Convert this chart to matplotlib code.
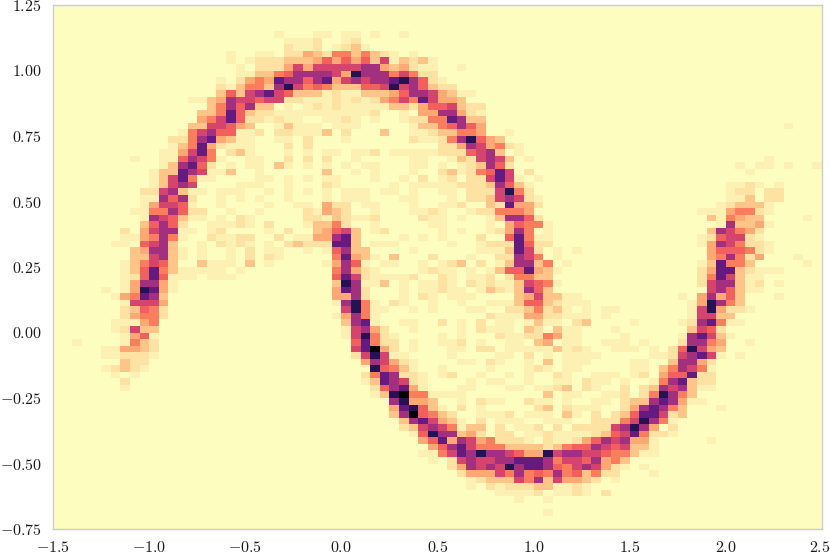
import numpy as np
import matplotlib
matplotlib.use("Agg")
import matplotlib.pyplot as plt
from matplotlib.transforms import ScaledTranslation

plt.rcParams['mathtext.fontset'] = 'cm'

# Histogram: row (from the top) -> "first_column:levels"
N_BINS = 80
LEVEL_COUNTS = {'0': 0, '1': 1, '2': 2, '3': 4, '4': 6, '5': 9, '6': 11,
                '7': 14, '8': 18, '9': 23, 'a': 28, 'b': 33}
ROWS = {
 4: "23:1 27:11 30:11 33:1 36:1",
 5: "24:1112 30:12",
 6: "24:2112 29:1231",
 7: "18:1 21:11 24:224325535321 37:1",
 8: "18:1 20:12223334646463713231",
 9: "19:1 21:2224747777788434211 42:1",
 10: "19:11 21:3356888874a88857522",
 11: "17:1 19:24549886894787889a8621",
 12: "17:213553 23:8a756533366 34:7a786322",
 13: "17:363789763331211333468874311",
 14: "14:11 16:34877677221112121245759744 42:3",
 15: "16:35868330101212111113324667322",
 16: "15:335963221111111111 33:2 36:1 38:4488421",
 17: "15:457962212110011210100122559833",
 18: "14:337764300131110111 37:1335686 44:4 76:1",
 19: "13:15786611202211130200030011233554 47:1",
 20: "12:22589431100110200010000002112 41:58a643",
 21: "12:135942111 24:202 40:224874521",
 22: "11:1147950231 24:1010110112011111222678301",
 23: "8:1 11:1168751 20:11 24:20202 31:1 37:11 41:132787301 74:1",
 24: "11:138962 18:1 20:11 23:31 26:1 28:1 30:1 32:11 37:11 40:1 42:123862 71:1 73:11 76:1 79:1",
 25: "10:133987113 21:1 28:3 31:1 33:1 37:1 40:2312569702 72:1",
 26: "10:1379511 21:11 24:1 26:1 28:11 33:1 36:1 38:2 40:12 43:2279710 50:1",
 27: "10:13787 19:111 24:1 28:21 35:1 37:11111222 45:38631 70:1121 75:1",
 28: "9:22783110 17:111 22:1 24:1 26:1 28:1 30:111 34:11 37:1 40:11 43:2227a52 70:122022",
 29: "9:118682 17:1 19:1 21:1 24:1 28:1 30:111 36:11 41:1 43:2237872 50:1 70:113022",
 30: "9:147761 17:1 22:1 25:11 28:422 32:11 37:1 40:112 45:329442 69:123331",
 31: "8:11558622 18:1 21:1 26:21432 33:1 37:1121 43:1225554 67:11145521",
 32: "9:1876311 17:1 19:21 26:2213211 33:2 38:211 42:1 45:138862 68:315433 78:1",
 33: "9:36862 16:11121 22:2 26:13352 33:1 39:11 45:1 47:46551 69:183341",
 34: "7:2 9:478811 16:12 22:1 24:2 27:34673 33:12 40:1 42:1 45:124 48:85 51:1 68:387542",
 35: "7:114585 13:1 16:21122 23:2 25:11448 30:93 36:1 38:1 40:1 44:2 47:69511 67:1267721",
 36: "6:11 9:6783 15:1 17:2121 22:1 24:23222 29:993 33:111 41:1 44:1222 48:9622 67:14875221",
 37: "8:348831 15:1 18:1 20:2 22:11 26:1 28:16833 37:1 44:1113 48:97 50:2 52:1 54:1 68:4666521",
 38: "8:337831 15:1 18:1 20:2 22:21 29:59431 35:3 39:2 43:1 46:22875 52:1 68:458524 77:1",
 39: "7:135763 15:3111 20:3 22:1 28:14861 34:11 38:1 40:123 44:2 46:138835 53:1 67:139553 78:1",
 40: "7:13695311 14:1111 19:1 29:58421 38:1211 43:1 45:136694 51:3 52:1 67:249932111",
 41: "7:126961 13:11 16:111 29:6972 33:11112 40:21 43:112 47:25533 67:2597311",
 42: "7:148841 29:3a8113 36:1 38:11 40:21 43:21211 48:37651 67:2788312 75:1",
 43: "5:1 7:14a941 29:4982 36:1 38:1121 42:1 44:13213 49:86 51:3 68:786311",
 44: "6:145983 29:4482 36:1 38:21 41:111 48:347331 53:1 54:1 65:1 67:48463 75:1",
 45: "7:17774 29:18a51 35:21 39:1 42:1 45:11136632111 66:14a853",
 46: "7:23652 30:7a511 37:1 39:1 43:11 47:2235231 55:1 57:11 66:17a4221",
 47: "7:24552 29:14851 45:21114 50:4 51:2211 54:11 57:1 66:17733",
 48: "6:11145 30:3891 36:11 40:2 42:1 44:2 46:11 49:1 50:3 51:11 54:23 60:1 65:1289511",
 49: "6:12733 30:17842 37:1 42:1 44:2111 49:32 52:311 58:1 66:3762",
 50: "7:1461 30:17a5 34:21 40:1 42:1 46:2112 50:2 51:5411 59:1 65:189731",
 51: "2:1 7:1532 31:69522 37:1 40:112 44:1 47:11 50:34 53:11 57:111 61:1 65:28854 72:1",
 52: "5:114432 31:79b42 37:1 41:11 44:22 47:11111311 54:2 55:1 58:111 62:1 64:26a743",
 53: "5:112221 31:27a711 41:1 46:11 49:2 51:1 53:1111 62:11278971 71:1",
 54: "7:322 32:487421 42:11 45:21 49:1 51:3 53:111 60:11 64:38842",
 55: "5:12321 33:a6531 40:1 45:1 49:121 53:11 60:11 63:358751",
 56: "6:1 8:1 32:2598221 40:12 44:1 47:1 49:1 52:21 56:111 60:12 63:466922",
 57: "7:2 32:1398721 43:1 45:11 49:1 52:11 55:211 59:1 62:158 65:9322",
 58: "7:1 33:268941 42:11 47:11 50:1 51:123 55:21 59:2 61:2387 65:8311",
 59: "33:13ab551111 51:3 53:11 57:112 61:25a8 65:53",
 60: "35:8a443 42:1 44:211 49:211 53:1 56:11 59:233898 65:411",
 61: "35:49a6310 42:2 44:1 50:23 53:2111 59:248985 65:3 69:1",
 62: "35:38b6532 44:1112 49:111 53:31 56:2 58:2369972 65:3",
 63: "36:389743 42:1 44:2 46:111 51:111 56:2225 60:7a851",
 64: "36:2378751 43:33 46:2 48:112 52:2 54:22227 59:8a84 64:2",
 65: "37:16a8834 44:2 46:22 49:1121111 56:236795 62:221",
 66: "38:46948745222 49:1 51:21124687 59:8441 68:1",
 67: "39:4689755533332 52:35668 57:7673 61:3 62:1",
 68: "38:115798a88764 50:4a788 55:7 56:765531 62:1",
 69: "39:1 41:278778899 50:985776 56:84 58:53",
 70: "41:248 44:787a8 49:9986 53:5787421 61:1",
 71: "42:24447 47:5 48:85658 53:5635 57:22 62:1",
 72: "43:1233 47:37 49:583 52:7443 56:2 58:1",
 73: "43:1 45:212223 51:3112 55:1",
 74: "46:1111 50:2 52:112 55:1 57:2",
 75: "48:1 51:1",
 77: "51:1",
}
X_TICKS = [-1.5, -1.0, -0.5, 0.0, 0.5, 1.0, 1.5, 2.0, 2.5]
Y_TICKS = [-0.75, -0.50, -0.25, 0.00, 0.25, 0.50, 0.75, 1.00, 1.25]

counts = np.zeros((N_BINS, N_BINS))
for row, text in ROWS.items():
    for part in text.split():
        start, levels = part.split(':')
        for off, ch in enumerate(levels):
            counts[N_BINS - 1 - row, int(start) + off] = LEVEL_COUNTS[ch]

x_edges = np.linspace(X_TICKS[0], X_TICKS[-1], N_BINS + 1)
y_edges = np.linspace(Y_TICKS[0], Y_TICKS[-1], N_BINS + 1)

W, H = 830, 554
fig = plt.figure(figsize=(W / 100, H / 100), dpi=100)
ax = fig.add_axes([53 / W, 1 - 529 / H, 769 / W, 524 / H])
ax.pcolormesh(x_edges, y_edges, counts, cmap='magma_r', vmin=0, vmax=33,
              edgecolors='none', linewidth=0, rasterized=True)
ax.set_xlim(X_TICKS[0], X_TICKS[-1])
ax.set_ylim(Y_TICKS[0], Y_TICKS[-1])
ax.set_xticks(X_TICKS)
ax.set_yticks(Y_TICKS)
ax.set_xticklabels([f"${v:.1f}$" for v in X_TICKS])
ax.set_yticklabels([f"${v:.2f}$" for v in Y_TICKS])
ax.tick_params(axis='x', length=0, labelsize=11.5, pad=8, colors='#1a1a1a')
ax.tick_params(axis='y', length=0, labelsize=11.5, pad=8, colors='#1a1a1a')
shift = ScaledTranslation(-2.5 / 100, 0, fig.dpi_scale_trans)
last = ax.get_xticklabels()[-1]
last.set_transform(last.get_transform() + shift)
for s in ax.spines.values():
    s.set_color('#cccccc')
    s.set_linewidth(1.0)
fig.savefig('out.png', dpi=100)
